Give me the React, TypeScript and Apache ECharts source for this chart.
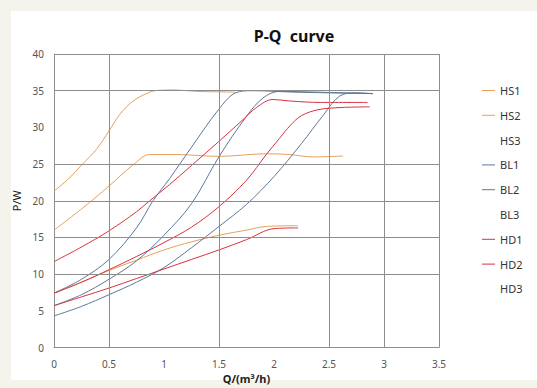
import React, { useEffect, useRef } from "react";
import * as echarts from "echarts";

// ---- data ----
const seriesNames = ["HS1", "HS2", "HS3", "BL1", "BL2", "BL3", "HD1", "HD2", "HD3"];
const hiddenLegendIcons = ["HS3", "BL3", "HD3"];

const hs1 = [[0, 21.3], [0.14, 23.1], [0.26, 25.0], [0.385, 27.0], [0.5, 29.5], [0.6, 31.8], [0.72, 33.6], [0.87, 34.8], [0.95, 35.05], [1.1, 35.1], [1.3, 34.9], [1.5, 34.85], [1.65, 34.8]];
const hs2 = [[0, 16.0], [0.26, 19.0], [0.5, 22.0], [0.72, 24.9], [0.87, 26.3], [1.1, 26.3], [1.5, 26.05], [1.93, 26.4], [2.14, 26.3], [2.35, 25.97], [2.63, 26.1]];
const hs3 = [[0, 7.4], [0.25, 8.9], [0.5, 10.5], [0.75, 11.9], [1.0, 13.3], [1.25, 14.4], [1.5, 15.3], [1.75, 16.0], [1.93, 16.5], [2.22, 16.6]];
const bl1 = [[0, 7.4], [0.25, 9.3], [0.5, 12.0], [0.75, 16.3], [0.9, 20.0], [1.05, 23.0], [1.25, 27.3], [1.5, 32.5], [1.65, 34.7], [1.8, 35.0], [2.2, 34.8], [2.9, 34.6]];
const bl2 = [[0, 5.7], [0.25, 7.2], [0.5, 9.3], [0.75, 11.8], [1.0, 15.3], [1.25, 19.6], [1.5, 26.0], [1.75, 31.5], [1.9, 34.0], [2.05, 34.9], [2.4, 34.8], [2.9, 34.6]];
const bl3 = [[0, 4.3], [0.25, 5.6], [0.5, 7.2], [0.75, 8.9], [1.0, 10.9], [1.25, 13.6], [1.5, 16.5], [1.75, 19.5], [2.0, 23.3], [2.25, 27.8], [2.45, 31.7], [2.6, 34.3], [2.75, 34.7], [2.9, 34.6]];
const hd1 = [[0, 11.7], [0.25, 13.7], [0.5, 15.9], [0.75, 18.5], [0.87, 20.0], [1.05, 22.2], [1.25, 24.8], [1.5, 28.1], [1.7, 30.8], [1.84, 32.7], [1.99, 33.8], [2.14, 33.6], [2.42, 33.4], [2.85, 33.4]];
const hd2 = [[0, 7.4], [0.25, 8.9], [0.5, 10.6], [0.75, 12.4], [1.0, 14.3], [1.25, 16.4], [1.5, 19.2], [1.75, 22.8], [1.93, 26.3], [2.05, 28.5], [2.15, 30.3], [2.25, 31.6], [2.4, 32.4], [2.6, 32.7], [2.87, 32.8]];
const hd3 = [[0, 5.7], [0.25, 6.9], [0.5, 8.1], [0.75, 9.4], [1.0, 10.7], [1.25, 12.0], [1.5, 13.3], [1.75, 14.7], [2.0, 16.2], [2.22, 16.3]];

const seriesData = [hs1, hs2, hs3, bl1, bl2, bl3, hd1, hd2, hd3];

// grid lines visible in the reference
const xGridLines = [0.5, 1.5, 2.5, 3, 3.5];
const yGridLines = [10, 15, 20, 25, 35, 40];

const ORANGE = "#E6A05A";
const BLUE = "#5C7898";
const RED = "#D8323F";
const seriesColors = [ORANGE, ORANGE, ORANGE, BLUE, BLUE, BLUE, RED, RED, RED];

const GRID_COLOR = "#8E8E8E";
const FONT = "'Noto Sans', 'DejaVu Sans', sans-serif";

export default function App() {
  const ref = useRef<HTMLDivElement>(null);

  useEffect(() => {
    if (!ref.current) return;
    const chart = echarts.init(ref.current, null, { renderer: "svg" });

    const series: any[] = seriesNames.map((name, i) => ({
      name,
      type: "line",
      data: seriesData[i],
      symbol: "none",
      showSymbol: false,
      smooth: 0.35,
      lineStyle: { color: seriesColors[i], width: 1 },
      itemStyle: { color: seriesColors[i] },
      z: 3,
    }));

    series.push({
      name: "__grid",
      type: "line",
      data: [],
      silent: true,
      markLine: {
        silent: true,
        symbol: "none",
        label: { show: false },
        lineStyle: { color: GRID_COLOR, type: "solid", width: 1 },
        emphasis: { disabled: true },
        data: [
          ...xGridLines.map((v) => ({ xAxis: v })),
          ...yGridLines.map((v) => ({ yAxis: v })),
        ],
      },
      z: 1,
    });

    chart.setOption({
      animation: false,
      backgroundColor: "#F4F4EC",
      textStyle: { fontFamily: FONT },
      graphic: [
        {
          type: "rect",
          shape: { x: 11, y: 11, width: 526, height: 369 },
          style: { fill: "#FFFFFF" },
          z: -10,
          silent: true,
        },
      ],
      title: {
        text: "P-Q  curve",
        left: 294,
        top: 28,
        textAlign: "center",
        padding: 0,
        textStyle: { fontSize: 16, fontWeight: "bold", color: "#111", fontFamily: FONT },
      },
      legend: {
        orient: "vertical",
        left: 482,
        top: 85,
        padding: 0,
        icon: "path://M0,0H26V2H0Z",
        itemWidth: 13,
        itemHeight: 11,
        itemGap: 13.8,
        textStyle: { fontSize: 11, color: "#333", fontFamily: FONT },
        data: seriesNames.map((n) =>
          hiddenLegendIcons.includes(n)
            ? { name: n, itemStyle: { opacity: 0 }, lineStyle: { opacity: 0 } }
            : { name: n }
        ),
      },
      grid: {
        left: 54,
        top: 54,
        width: 385,
        height: 293.5,
        containLabel: false,
        outerBoundsMode: "none",
      },
      xAxis: {
        type: "value",
        min: 0,
        max: 3.5,
        interval: 0.5,
        name: "Q/(m³/h)",
        nameLocation: "middle",
        nameGap: 23,
        nameTextStyle: { fontSize: 11, fontWeight: "bold", color: "#222", fontFamily: FONT },
        axisLine: { show: true, lineStyle: { color: GRID_COLOR, width: 1 } },
        axisTick: { show: false },
        splitLine: { show: false },
        axisLabel: { fontSize: 10, color: "#555", margin: 11, fontFamily: FONT },
      },
      yAxis: {
        type: "value",
        min: 0,
        max: 40,
        interval: 5,
        name: "P/W",
        nameLocation: "middle",
        nameGap: 21,
        nameRotate: 90,
        nameTextStyle: { fontSize: 11, color: "#222", fontFamily: FONT },
        axisLine: { show: true, lineStyle: { color: GRID_COLOR, width: 1 } },
        axisTick: { show: false },
        splitLine: { show: false },
        axisLabel: { fontSize: 10, color: "#555", margin: 10, fontFamily: FONT },
      },
      series,
    });

    return () => chart.dispose();
  }, []);

  return (
    <div
      ref={ref}
      style={{ position: "fixed", left: 0, top: 0, width: 537, height: 388 }}
    />
  );
}
